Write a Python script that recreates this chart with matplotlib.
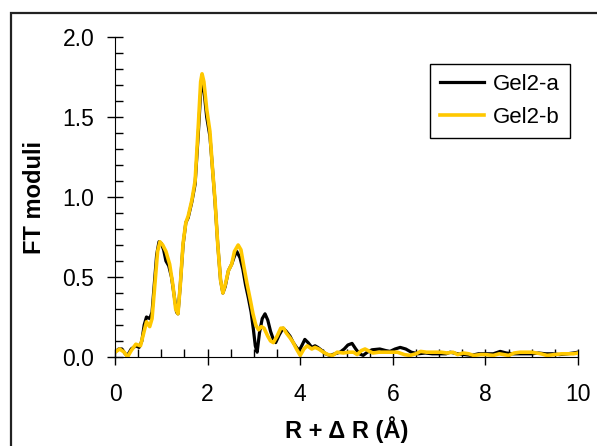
import numpy as np
import matplotlib
matplotlib.use("Agg")
import matplotlib.pyplot as plt
from matplotlib.patches import Rectangle
from matplotlib.ticker import MultipleLocator

plt.rcParams['font.family'] = ['Liberation Sans', 'DejaVu Sans']

# FT moduli
r_a = [0.0, 0.08, 0.15, 0.22, 0.27, 0.35, 0.45, 0.52, 0.58, 0.63, 0.68, 0.75, 0.8, 0.85, 0.9,
       0.95, 1.0, 1.05, 1.1, 1.16, 1.22, 1.28, 1.33, 1.36, 1.41, 1.47, 1.53, 1.58, 1.66, 1.73,
       1.8, 1.85, 1.88, 1.92, 1.98, 2.05, 2.1, 2.16, 2.22, 2.28, 2.33, 2.38, 2.45, 2.52, 2.58,
       2.63, 2.7, 2.76, 2.82, 2.88, 2.94, 2.99, 3.03, 3.07, 3.12, 3.18, 3.24, 3.3, 3.36, 3.42,
       3.47, 3.55, 3.63, 3.7, 3.78, 3.85, 3.92, 3.98, 4.05, 4.1, 4.17, 4.25, 4.32, 4.38, 4.47,
       4.55, 4.64, 4.75, 4.86, 4.95, 5.03, 5.12, 5.2, 5.28, 5.36, 5.45, 5.55, 5.72, 5.85, 5.94,
       6.05, 6.16, 6.28, 6.4, 6.55, 6.7, 6.85, 7.0, 7.15, 7.24, 7.4, 7.55, 7.7, 7.85, 8.0,
       8.17, 8.32, 8.45, 8.6, 8.75, 8.9, 9.0, 9.15, 9.3, 9.45, 9.6, 9.77, 9.9, 10.0]
gel2_a = [0.03, 0.05, 0.05, 0.02, 0.01, 0.05, 0.07, 0.06, 0.10, 0.20, 0.25, 0.24, 0.28, 0.46, 0.64,
          0.72, 0.71, 0.67, 0.60, 0.57, 0.50, 0.38, 0.28, 0.27, 0.45, 0.70, 0.84, 0.87, 0.97, 1.08,
          1.40, 1.65, 1.70, 1.67, 1.50, 1.38, 1.20, 0.97, 0.70, 0.48, 0.40, 0.44, 0.54, 0.58, 0.63,
          0.66, 0.62, 0.55, 0.45, 0.37, 0.28, 0.17, 0.07, 0.03, 0.15, 0.24, 0.27, 0.23, 0.16, 0.11,
          0.09, 0.14, 0.18, 0.16, 0.13, 0.09, 0.06, 0.04, 0.08, 0.11, 0.09, 0.06, 0.07, 0.06, 0.04,
          0.02, 0.01, 0.02, 0.03, 0.05, 0.075, 0.085, 0.05, 0.02, 0.01, 0.03, 0.045, 0.05, 0.04, 0.035,
          0.05, 0.06, 0.05, 0.03, 0.02, 0.025, 0.02, 0.02, 0.02, 0.03, 0.02, 0.015, 0.01, 0.02, 0.02,
          0.02, 0.035, 0.025, 0.02, 0.02, 0.02, 0.02, 0.025, 0.02, 0.02, 0.015, 0.02, 0.025, 0.03]

r_b = [0.0, 0.1, 0.2, 0.27, 0.35, 0.45, 0.55, 0.62, 0.68, 0.75, 0.8, 0.86, 0.92, 0.97, 1.03,
       1.1, 1.18, 1.25, 1.31, 1.36, 1.41, 1.47, 1.53, 1.58, 1.66, 1.73, 1.8, 1.85, 1.88, 1.92,
       1.98, 2.05, 2.1, 2.16, 2.22, 2.28, 2.33, 2.38, 2.45, 2.52, 2.58, 2.66, 2.72, 2.78, 2.85,
       2.92, 2.98, 3.04, 3.1, 3.16, 3.22, 3.3, 3.36, 3.42, 3.5, 3.58, 3.64, 3.7, 3.78, 3.85,
       3.92, 4.0, 4.08, 4.15, 4.25, 4.32, 4.4, 4.5, 4.6, 4.7, 4.8, 4.93, 5.05, 5.15, 5.23,
       5.32, 5.4, 5.5, 5.57, 5.7, 5.8, 5.95, 6.1, 6.25, 6.37, 6.5, 6.6, 6.73, 6.9, 7.05,
       7.17, 7.3, 7.4, 7.52, 7.64, 7.74, 7.9, 8.0, 8.17, 8.3, 8.4, 8.5, 8.62, 8.75, 8.9,
       9.0, 9.1, 9.2, 9.33, 9.5, 9.65, 9.77, 9.9, 10.0]
gel2_b = [0.03, 0.05, 0.03, 0.0, 0.04, 0.08, 0.07, 0.15, 0.22, 0.19, 0.24, 0.45, 0.66, 0.72, 0.70,
          0.66, 0.58, 0.45, 0.30, 0.27, 0.45, 0.71, 0.84, 0.88, 0.98, 1.10, 1.45, 1.72, 1.77, 1.72,
          1.55, 1.41, 1.20, 0.98, 0.70, 0.48, 0.40, 0.45, 0.54, 0.58, 0.66, 0.70, 0.67, 0.57, 0.46,
          0.36, 0.27, 0.20, 0.17, 0.19, 0.18, 0.13, 0.10, 0.09, 0.13, 0.18, 0.18, 0.15, 0.12, 0.09,
          0.05, 0.01, 0.05, 0.07, 0.05, 0.06, 0.05, 0.03, 0.015, 0.01, 0.03, 0.025, 0.03, 0.03, 0.015,
          0.04, 0.05, 0.035, 0.025, 0.03, 0.03, 0.03, 0.03, 0.015, 0.01, 0.02, 0.035, 0.03, 0.03, 0.03,
          0.025, 0.03, 0.015, 0.025, 0.02, 0.01, 0.015, 0.015, 0.01, 0.02, 0.015, 0.01, 0.025, 0.03, 0.03,
          0.03, 0.025, 0.02, 0.01, 0.015, 0.02, 0.02, 0.02, 0.025]

fig = plt.figure(figsize=(5.97, 4.46), dpi=100)
ax = fig.add_axes([115/597, 1 - 357/446, 463/597, 320/446])

# outer frame of the figure (runs off the right and bottom edges)
fig.patches.append(Rectangle((11/597, -0.1), 1.2, 1 - 13/446 + 0.1, transform=fig.transFigure,
                             fill=False, edgecolor='#222222', linewidth=1.6))

ax.plot(r_a, gel2_a, color='black', linewidth=2.3, label='Gel2-a')
ax.plot(r_b, gel2_b, color='#FFC800', linewidth=2.6, label='Gel2-b')

ax.set_xlim(0, 10)
ax.set_ylim(0, 2.0)
ax.spines['top'].set_visible(False)
ax.spines['right'].set_visible(False)
ax.xaxis.set_major_locator(MultipleLocator(2))
ax.xaxis.set_minor_locator(MultipleLocator(0.5))
ax.yaxis.set_major_locator(MultipleLocator(0.5))
ax.yaxis.set_minor_locator(MultipleLocator(0.1))
ax.yaxis.set_major_formatter(plt.FormatStrFormatter('%.1f'))
ax.tick_params(which='major', direction='inout', length=12, width=1, labelsize=16.5)
ax.tick_params(which='minor', direction='in', length=6, width=1)
ax.tick_params(axis='y', which='major', pad=9)
ax.tick_params(axis='x', which='major', pad=13)

ax.set_ylabel('FT moduli', fontsize=17, fontweight='bold')
ax.set_xlabel('R + Δ R (Å)', fontsize=17, fontweight='bold')
ax.yaxis.set_label_coords(-0.15, 0.5)
ax.xaxis.set_label_coords(0.5, -0.185)

leg = ax.legend(loc='upper left', bbox_to_anchor=(0.68, 0.916), fontsize=16, fancybox=False,
                edgecolor='black', framealpha=1, handlelength=2.0, handletextpad=0.4,
                borderpad=0.45, labelspacing=0.55, borderaxespad=0)
leg.get_frame().set_linewidth(1)

fig.savefig('out.png', dpi=100)
